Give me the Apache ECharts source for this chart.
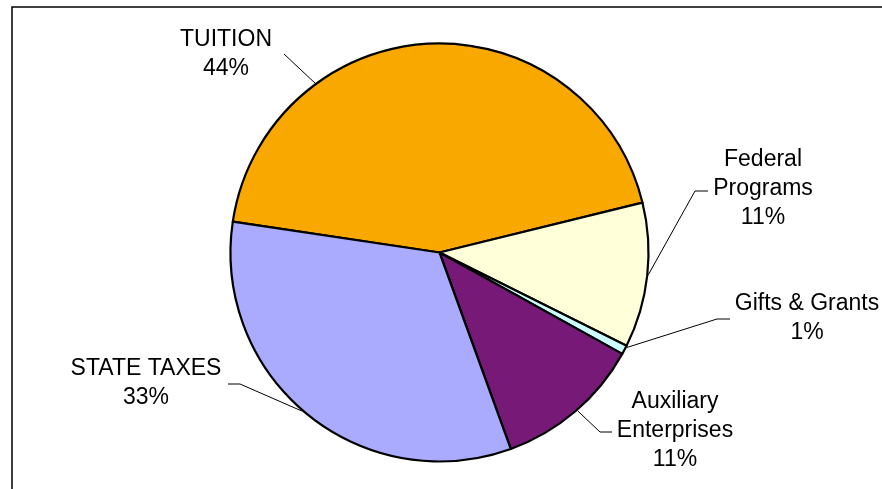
<!DOCTYPE html>
<html>
<head>
<meta charset="utf-8">
<style>
  html, body { margin: 0; padding: 0; background: #fff; }
  #chart { width: 882px; height: 489px; }
</style>
<script src="https://cdn.jsdelivr.net/npm/echarts@6/dist/echarts.min.js"></script>
</head>
<body>
<div id="chart"></div>
<script>
// revenue sources (share of total, %)
const categories = ['TUITION', 'Federal\nPrograms', 'Gifts & Grants', 'Auxiliary\nEnterprises', 'STATE TAXES'];
const values = [43.8, 11.2, 0.7, 11.4, 32.9];
const colors = ['#F9A800', '#FFFFD9', '#CCFFFF', '#771A77', '#AAAAFF'];

// label layout: block centre, leader elbow/end, angle where the leader meets the pie
const labelCenters = [[226, 54], [763, 189], [807, 318], [675, 431], [146, 383]];
const leaderEnds = [[[284, 54], [284, 54]], [[695, 191], [708, 191]], [[717, 319], [730, 319]], [[600, 432], [612, 432]], [[240, 384], [228, 384]]];
const leaderAngles = [-126.3, 6.1, 26.9, 48.9, 131];

const CX = 439.5, CY = 252.5, R = 209;

const chart = echarts.init(document.getElementById('chart'), null, { renderer: 'canvas' });

chart.setOption({
  animation: false,
  backgroundColor: '#fff',
  graphic: [{
    type: 'rect',
    shape: { x: 12, y: 7, width: 1000, height: 1000 },
    style: { fill: 'none', stroke: '#000', lineWidth: 1.5 },
    silent: true
  }],
  series: [{
    type: 'pie',
    center: [CX, CY],
    radius: R,
    startAngle: 171.5,
    clockwise: true,
    percentPrecision: 0,
    avoidLabelOverlap: false,
    itemStyle: { borderColor: '#000', borderWidth: 2.2 },
    label: {
      show: true,
      formatter: '{b}\n{d}%',
      color: '#000',
      fontFamily: 'Liberation Sans, Arial, sans-serif',
      fontSize: 23,
      lineHeight: 29
    },
    labelLine: {
      show: true,
      lineStyle: { color: '#000', width: 1 }
    },
    labelLayout: function (params) {
      const i = params.dataIndex;
      const a = leaderAngles[i] * Math.PI / 180;
      const edge = [CX + (R + 1) * Math.cos(a), CY + (R + 1) * Math.sin(a)];
      return {
        x: labelCenters[i][0],
        y: labelCenters[i][1],
        align: 'center',
        verticalAlign: 'middle',
        labelLinePoints: [edge, leaderEnds[i][0], leaderEnds[i][1]]
      };
    },
    emphasis: { disabled: true },
    data: categories.map((name, i) => ({
      name: name,
      value: values[i],
      itemStyle: { color: colors[i] }
    }))
  }]
});
</script>
</body>
</html>
